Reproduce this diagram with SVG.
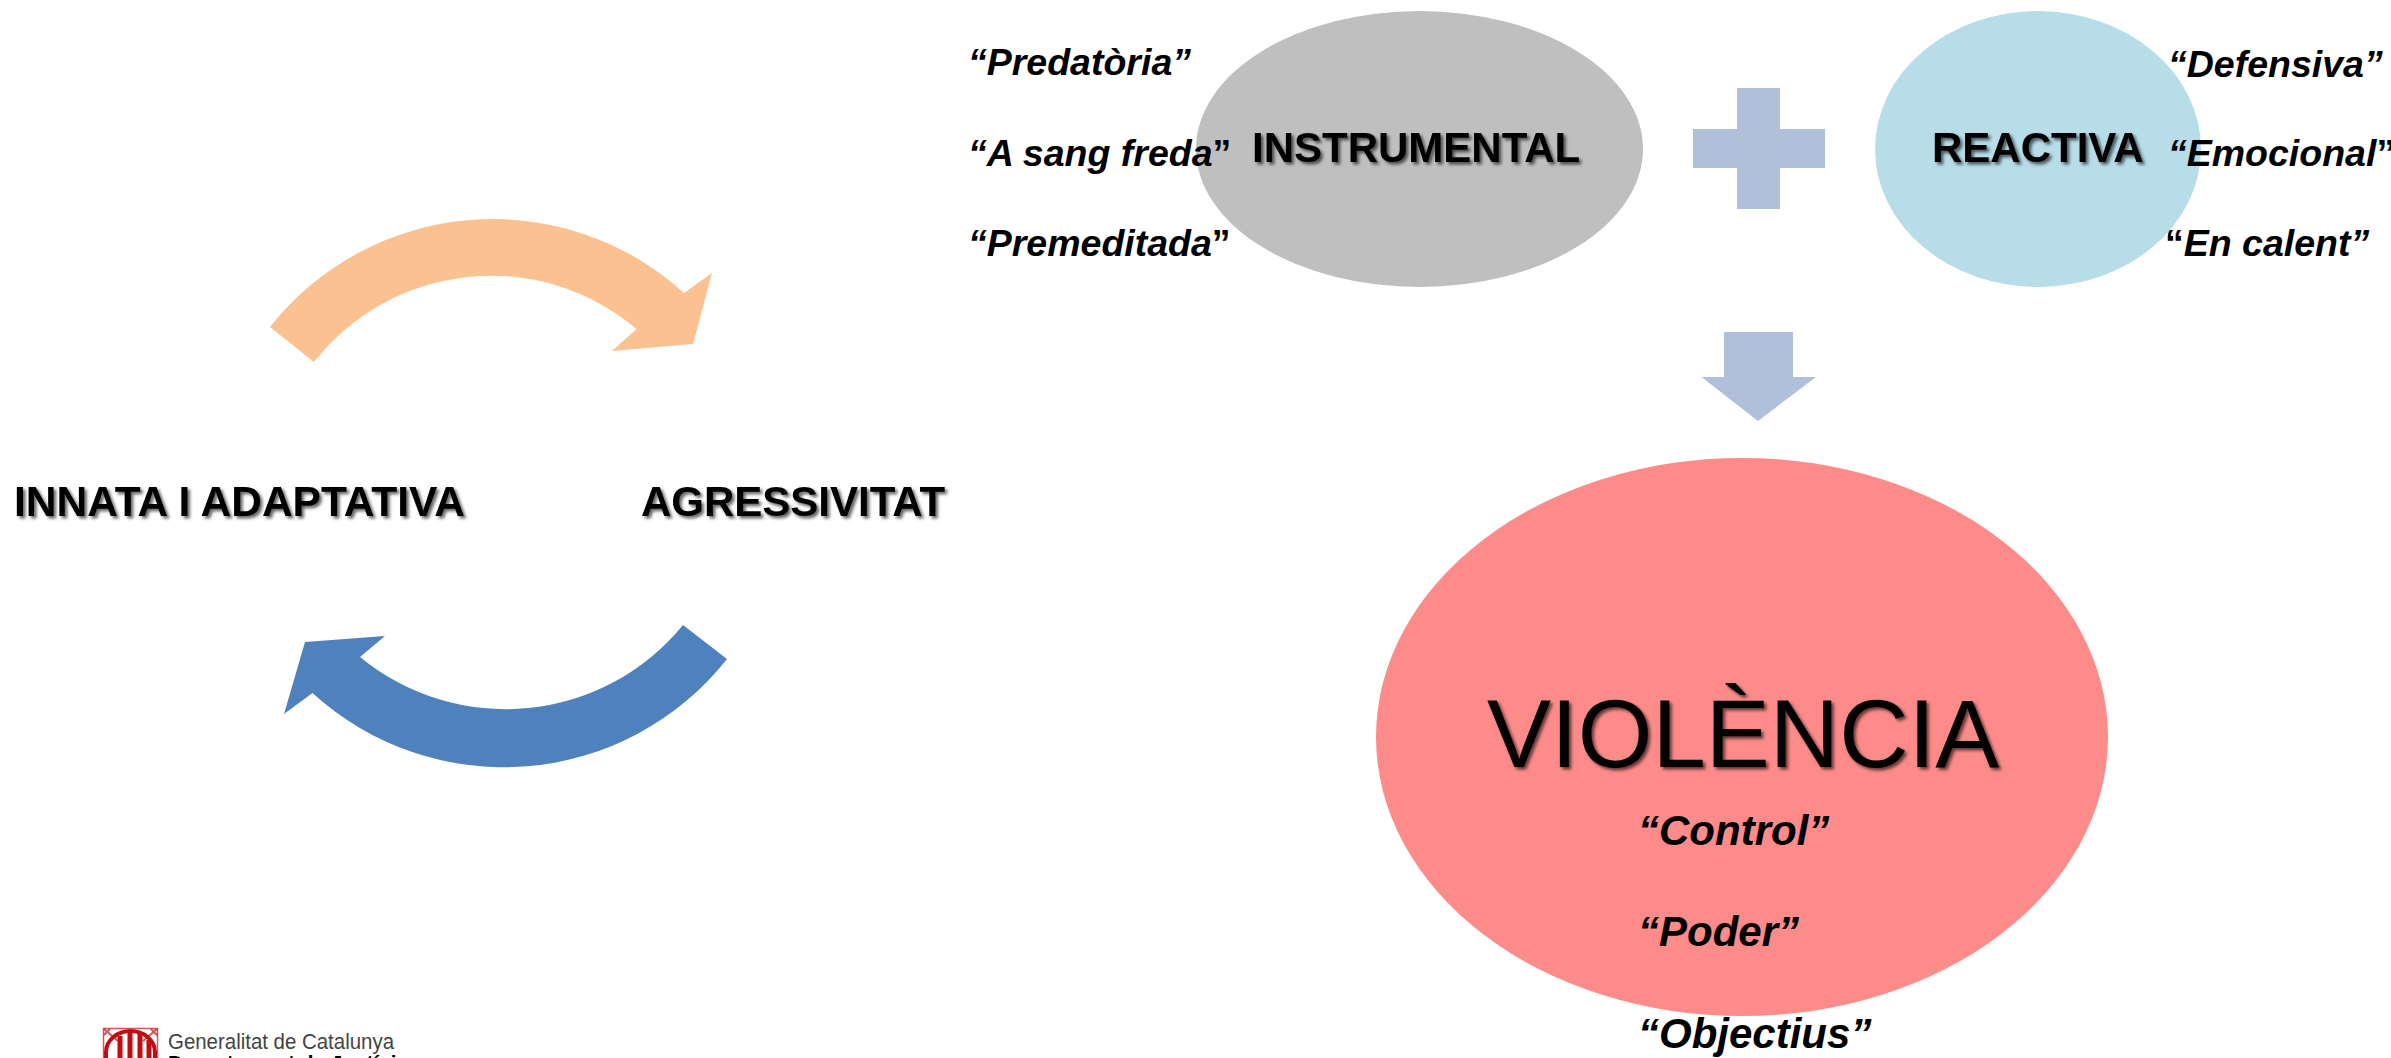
<svg xmlns="http://www.w3.org/2000/svg" width="2391" height="1058" viewBox="0 0 2391 1058">
<style>
text{font-family:"Liberation Sans",Arial,sans-serif;fill:#000}
.h{font-size:42px;font-weight:700;filter:url(#sh)}
.q{font-size:42px;font-weight:700;font-style:italic}
.t{font-size:37.500px;font-weight:700;font-style:italic}
.u{font-style:normal}
.s{fill:#b0bfda}
.st{fill:none;stroke:#c00d12}
</style>
<defs>
<filter id="sh" x="-5%" y="-20%" width="110%" height="140%"><feDropShadow dx="2.5" dy="2.5" stdDeviation="1.6" flood-color="#000" flood-opacity=".6"/></filter>
<filter id="soft" x="-2%" y="-2%" width="104%" height="104%"><feGaussianBlur stdDeviation=".7"/></filter>
</defs>
<rect width="2391" height="1058" fill="#fff"/>
<g id="connectors">
<path id="arrow-orange" fill="#fbc191" d="M270,327A284,284 0 0 1 684,293L712,273L693,344L612,351L636.5,329A225,225 0 0 0 314,362Z"/>
<path id="arrow-blue" fill="#4f81bd" d="M727,659A284,284 0 0 1 312.5,693L284,714L305,642L385,636L360,657A229,229 0 0 0 683,625Z"/>
<path id="plus" class="s" d="M1737,88H1780V129H1825V168H1780V209H1737V168H1693V129H1737Z"/>
<path id="arrow-down" class="s" d="M1724,332H1793V377H1816L1758,421L1701.5,377H1724Z"/>
</g>
<g id="innata"><text class="h" x="14" y="516" textLength="451" lengthAdjust="spacingAndGlyphs">INNATA I ADAPTATIVA</text></g>
<g id="agressivitat"><text class="h" x="641" y="516">AGRESSIVITAT</text></g>
<g id="instrumental">
<ellipse cx="1419.500" cy="149" rx="223.500" ry="138" fill="#bfbfbf" filter="url(#soft)"/>
<text class="h" x="1252" y="162">INSTRUMENTAL</text>
<text class="t" x="968" y="75">“Predatòria”</text>
<text class="t" x="968" y="166">“A sang freda<tspan class="u">”</tspan></text>
<text class="t" x="968" y="256">“Premeditada<tspan class="u">”</tspan></text>
</g>
<g id="reactiva">
<ellipse cx="2038" cy="149" rx="163" ry="138" fill="#b7dde8" filter="url(#soft)"/>
<text class="h" x="1932" y="162">REACTIVA</text>
<text class="t" x="2168" y="77">“Defensiva”</text>
<text class="t" x="2168" y="166">“Emocional<tspan class="u">”</tspan></text>
<text class="t" x="2165" y="256"><tspan class="u">“</tspan>En calent”</text>
</g>
<g id="violencia">
<ellipse cx="1742" cy="737" rx="366" ry="279" fill="#fd8b89" filter="url(#soft)"/>
<text x="1487" y="767" font-size="96" filter="url(#sh)">VIOLÈNCIA</text>
<text class="q" x="1638" y="845">“Control”</text>
<text class="q" x="1638" y="946">“Poder”</text>
<text class="q" x="1638" y="1048">“Objectius”</text>
</g>
<g id="logo">
<rect x="103.500" y="1028.500" width="54" height="40" fill="#fff" stroke="#d9565a" stroke-width="1.500"/>
<path d="M104,1029L118,1041M157,1029L143,1041M110,1029L104,1035M151,1029L157,1035" class="st" stroke-width="2" opacity=".7"/>
<path d="M106,1062V1052A24.500,21 0 0 1 155,1052V1062" class="st" stroke-width="4"/>
<path d="M120,1036V1062M130,1033V1062M140,1033V1062M149,1040V1062" class="st" stroke-width="5"/>
<text x="168" y="1048.500" font-size="22" textLength="226" lengthAdjust="spacingAndGlyphs" style="fill:#444">Generalitat de Catalunya</text>
<text x="168" y="1071" font-size="22" font-weight="700" textLength="240" lengthAdjust="spacingAndGlyphs">Departament de Justícia</text>
</g>
</svg>
